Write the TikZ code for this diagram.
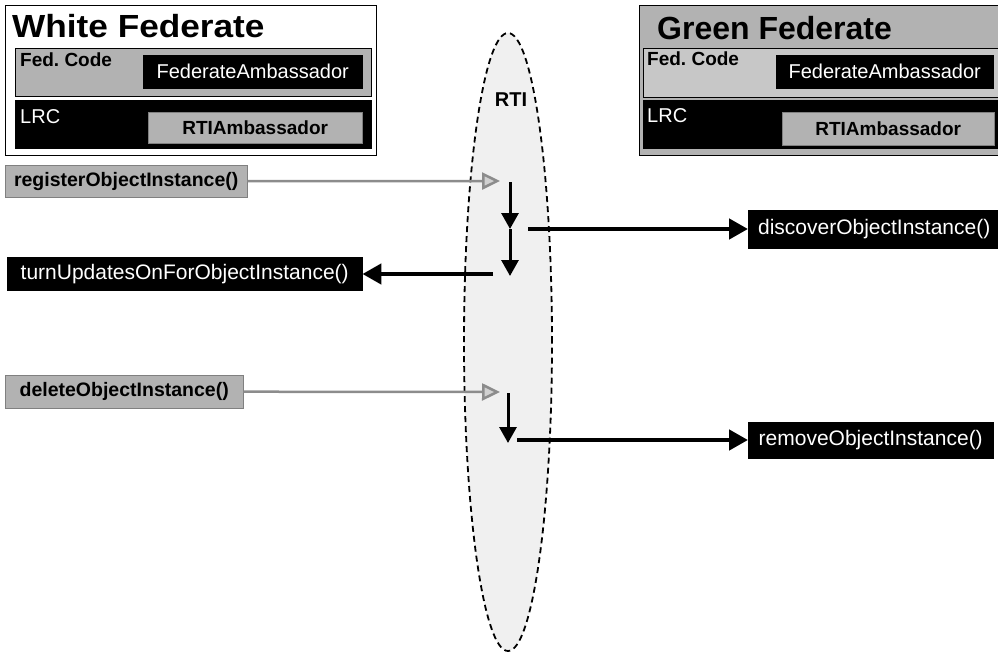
\documentclass[tikz,border=0pt]{standalone}
\usepackage{fontspec}
\setmainfont{Liberation Sans}
\usetikzlibrary{arrows.meta,shapes.geometric}
\begin{document}
\begin{tikzpicture}[x=1pt,y=-1pt,
  blk/.style={fill=black,draw=black,inner sep=0pt,text=white,anchor=north west},
  gry/.style={fill=black!30,draw=black!50,inner sep=0pt,anchor=north west},
  row/.style={line width=0.8pt,draw=black,inner sep=0pt,anchor=north west},
  fbig/.style={font=\fontsize{32}{32}\selectfont\bfseries},
  fsmb/.style={font=\fontsize{19}{19}\selectfont\bfseries},
  fsmr/.style={font=\fontsize{20}{20}\selectfont},
  fcall/.style={font=\fontsize{21}{21}\selectfont},
  fcallb/.style={font=\fontsize{19.5}{19.5}\selectfont\bfseries},
  garrow/.style={draw=black!45,line width=2.5pt,-{Triangle[length=18pt,width=17pt,fill=black!18]}},
  varrow/.style={draw=black,line width=3pt,-{Triangle[length=16pt,width=17pt]}},
  barrow/.style={draw=black,line width=4.5pt,-{Triangle[length=19pt,width=20pt]}}]
\useasboundingbox (0,0) rectangle (998,654);

% RTI ellipse
\node[ellipse,draw=black,dash pattern=on 6pt off 4pt,line width=1.8pt,fill=black!6,
      minimum width=88,minimum height=618,inner sep=0pt] (rti) at (508,342) {};
\node[font=\fontsize{20}{20}\selectfont\bfseries,inner sep=0pt] (rtil) at (511,100) {RTI};

% White Federate
\node[row,fill=white,minimum width=371,minimum height=150] (wf) at (5,5) {};
\node[fbig,anchor=base west,inner sep=0pt] (wft) at (12,37) {\scalebox{1.1}[1]{White Federate}};
\node[row,fill=black!30,minimum width=356,minimum height=48] (wfc) at (15,48) {};
\node[fsmb,anchor=base west,inner sep=0pt] (wfct) at (20,66) {Fed.\ Code};
\node[blk,minimum width=219,minimum height=33,fsmr] (wfa) at (143,55) {FederateAmbassador};
\node[row,fill=black,minimum width=356,minimum height=48] (wl) at (15,100) {};
\node[fsmr,text=white,anchor=base west,inner sep=0pt] (wlt) at (20,123) {LRC};
\node[gry,minimum width=214,minimum height=31,fsmb] (wra) at (148,112) {RTIAmbassador};

% Green Federate
\node[row,fill=black!30,minimum width=366,minimum height=150] (gf) at (639,5) {};
\node[fbig,anchor=base west,inner sep=0pt] (gft) at (657,39) {Green Federate};
\node[row,fill=black!22,minimum width=362,minimum height=49] (gfc) at (643,48) {};
\node[fsmb,anchor=base west,inner sep=0pt] (gfct) at (647,65) {Fed.\ Code};
\node[blk,minimum width=217,minimum height=33,fsmr] (gfa) at (776,55) {FederateAmbassador};
\node[row,fill=black,minimum width=362,minimum height=48] (gl) at (643,100) {};
\node[fsmr,text=white,anchor=base west,inner sep=0pt] (glt) at (647,122) {LRC};
\node[gry,minimum width=212,minimum height=33,fsmb] (gra) at (782,112) {RTIAmbassador};

% Calls
\node[gry,minimum width=242,minimum height=32,fcallb] (reg) at (5,165) {registerObjectInstance()};
\node[blk,minimum width=355,minimum height=33,fcall] (turn) at (7,257) {turnUpdatesOnForObjectInstance()};
\node[gry,minimum width=238,minimum height=33,fcallb] (del) at (5,375) {deleteObjectInstance()};
\node[blk,minimum width=252,minimum height=38,fcall] (disc) at (748,210) {discoverObjectInstance()};
\node[blk,minimum width=245,minimum height=36,fcall] (rem) at (748,422) {removeObjectInstance()};

% Coordinates inside RTI
\coordinate (r1) at (500,181);
\coordinate (c1) at (510,182);
\coordinate (c2) at (510,229);
\coordinate (c3) at (510,276);
\coordinate (d0) at (528,229);
\coordinate (t0) at (493,274);
\coordinate (r2) at (500,392);
\coordinate (c4) at (508,393);
\coordinate (c5) at (508,443);
\coordinate (m0) at (517,440);

% Connectors
\draw[garrow] (reg.east) -- (r1);
\draw[varrow] (c1) -- (c2);
\draw[varrow] (c2) -- (c3);
\draw[barrow] (d0) -- (d0 -| disc.west);
\draw[barrow] (t0) -- (t0 -| turn.east);
\draw[garrow] (del.east) -- (r2);
\draw[varrow] (c4) -- (c5);
\draw[barrow] (m0) -- (m0 -| rem.west);
\end{tikzpicture}
\end{document}
